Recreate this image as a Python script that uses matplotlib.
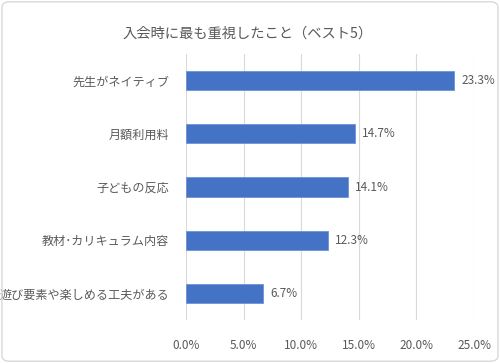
import matplotlib
matplotlib.use("Agg")
import matplotlib.pyplot as plt
from matplotlib.patches import FancyBboxPatch
from matplotlib.ticker import FuncFormatter

plt.rcParams['font.family'] = ['Noto Sans CJK JP', 'DejaVu Sans']

categories = ["先生がネイティブ", "月額利用料", "子どもの反応", "教材･カリキュラム内容", "遊び要素や楽しめる工夫がある"]
values = [23.3, 14.7, 14.1, 12.3, 6.7]
xticks = [0, 5, 10, 15, 20, 25]
title = "入会時に最も重視したこと（ベスト5）"

txt = "#595959"
fig = plt.figure(figsize=(5.0, 3.63), dpi=100)
ax = fig.add_axes([0.372, 0.1185, 0.576, 0.7325])

y = list(range(len(categories)))
ax.barh(y, values, height=0.36, color="#4472C4", edgecolor="#6E92D4", linewidth=0.6, zorder=3)
for yi, v in zip(y, values):
    ax.text(v + 0.6, yi, f"{v:.1f}%", va="center", ha="left", fontsize=8.5, color=txt)

ax.set_ylim(len(categories) - 0.5, -0.5)
ax.set_yticks(y)
ax.set_yticklabels(categories, fontsize=8.7, color=txt)
ax.set_xlim(0, 25)
ax.set_xticks(xticks)
ax.xaxis.set_major_formatter(FuncFormatter(lambda v, p: f"{v:.1f}%"))
ax.tick_params(axis='x', labelsize=8.5, colors=txt, length=0, pad=14)
ax.tick_params(axis='y', length=0, pad=12)
ax.grid(axis='x', color="#D9D9D9", linewidth=0.8, zorder=0)
for s in ax.spines.values():
    s.set_visible(False)

fig.text(0.495, 0.908, title, ha="center", va="center", fontsize=10.3, color=txt)

border = FancyBboxPatch((0.004, 0.005), 0.992, 0.99, boxstyle="round,pad=0,rounding_size=0.015",
                        transform=fig.transFigure, fill=False, edgecolor="#D9D9D9", linewidth=1)
fig.patches.append(border)

fig.savefig("out.png", dpi=100)
